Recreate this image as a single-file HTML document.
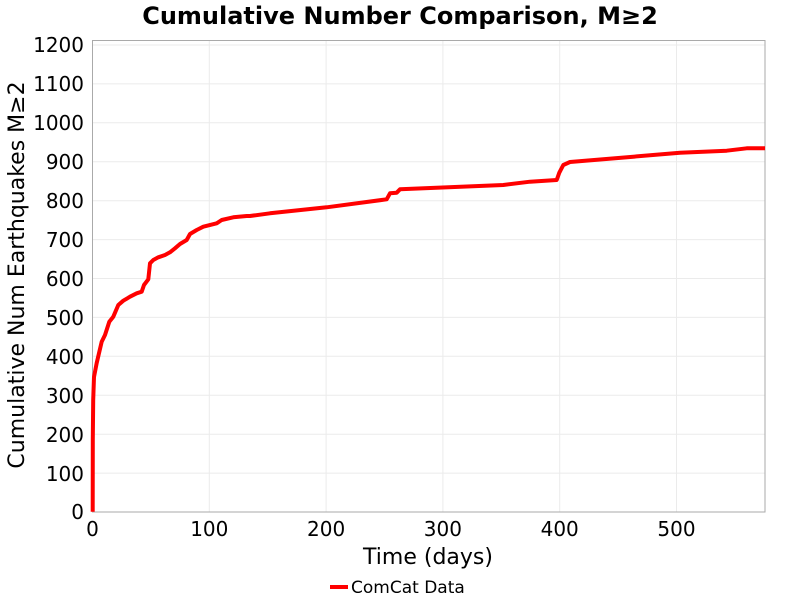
<!DOCTYPE html>
<html><head><meta charset="utf-8"><style>
html,body{margin:0;padding:0;background:#fff;}
svg{display:block;font-family:"DejaVu Sans","Liberation Sans",sans-serif;}
</style></head><body>
<svg width="800" height="600" viewBox="0 0 800 600">
<rect width="800" height="600" fill="#fff"/>
<g stroke="#ebebeb" stroke-width="1">
<line x1="92.5" x2="765" y1="45" y2="45"/>
<line x1="92.5" x2="765" y1="83.9" y2="83.9"/>
<line x1="92.5" x2="765" y1="122.8" y2="122.8"/>
<line x1="92.5" x2="765" y1="161.8" y2="161.8"/>
<line x1="92.5" x2="765" y1="200.7" y2="200.7"/>
<line x1="92.5" x2="765" y1="239.6" y2="239.6"/>
<line x1="92.5" x2="765" y1="278.5" y2="278.5"/>
<line x1="92.5" x2="765" y1="317.4" y2="317.4"/>
<line x1="92.5" x2="765" y1="356.3" y2="356.3"/>
<line x1="92.5" x2="765" y1="395.3" y2="395.3"/>
<line x1="92.5" x2="765" y1="434.2" y2="434.2"/>
<line x1="92.5" x2="765" y1="473.1" y2="473.1"/>
<line x1="209.3" x2="209.3" y1="40" y2="512"/>
<line x1="326.1" x2="326.1" y1="40" y2="512"/>
<line x1="442.9" x2="442.9" y1="40" y2="512"/>
<line x1="559.7" x2="559.7" y1="40" y2="512"/>
<line x1="676.5" x2="676.5" y1="40" y2="512"/>
</g>
<rect x="92.5" y="40.5" width="672.5" height="471.5" fill="none" stroke="#aaa" stroke-width="1"/>
<polyline fill="none" stroke="#ff0000" stroke-width="4" stroke-linejoin="round" points="92.7,511.7 92.8,440 93.2,400 94,377 96.7,363 101.7,341.7 105,335 109.3,321.7 113.3,316.7 118.3,305 123.3,300.7 130,296.7 136.7,293.3 141.7,291.7 144,285 148.3,279.3 150,263.3 153.3,260 158.3,257.3 165,255 170,252.3 175,248.3 180,244 186.7,240 190,234 196.7,230 203.3,226.7 216.7,223.3 221.7,220 233.3,217.3 246.7,216 250,216 270,213.3 326.7,207.3 386.7,199.3 390,193.3 396.7,192.7 400,189.3 503.3,185 530,181.7 556.7,180 559.3,172.7 563.3,165 570,162 633.3,156.7 680,152.7 726.7,150.7 746.7,148.3 765,148.3"/>
<g font-size="20" fill="#000" text-anchor="end">
<text x="84" y="52">1200</text>
<text x="84" y="91">1100</text>
<text x="84" y="130">1000</text>
<text x="84" y="169">900</text>
<text x="84" y="208">800</text>
<text x="84" y="247">700</text>
<text x="84" y="286">600</text>
<text x="84" y="325">500</text>
<text x="84" y="364">400</text>
<text x="84" y="403">300</text>
<text x="84" y="442">200</text>
<text x="84" y="481">100</text>
<text x="84" y="519">0</text>
</g>
<g font-size="20" fill="#000" text-anchor="middle">
<text x="92.5" y="536">0</text>
<text x="209.3" y="536">100</text>
<text x="326.1" y="536">200</text>
<text x="442.9" y="536">300</text>
<text x="559.7" y="536">400</text>
<text x="676.5" y="536">500</text>
</g>
<text x="400" y="24" font-size="24" font-weight="bold" text-anchor="middle">Cumulative Number Comparison, M≥2</text>
<text x="428" y="564" font-size="22" text-anchor="middle">Time (days)</text>
<text transform="translate(24,275) rotate(-90)" font-size="22" text-anchor="middle">Cumulative Num Earthquakes M≥2</text>
<line x1="330" x2="348" y1="587" y2="587" stroke="#ff0000" stroke-width="4"/>
<text x="351" y="593" font-size="17">ComCat Data</text>
</svg>
</body></html>
